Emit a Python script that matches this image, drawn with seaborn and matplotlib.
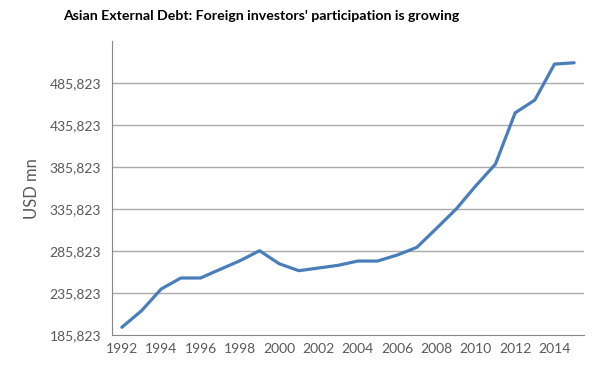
import pandas as pd
import matplotlib.pyplot as plt
import seaborn as sns
import numpy as np

years = list(range(1992, 2016))
debt = [195000, 214700, 240600, 253700, 253700, 264000, 274200, 286200,
        270700, 262400, 265600, 268800, 273900, 273900, 281000, 290200,
        312800, 335800, 363500, 389400, 450400, 465600, 508400, 510000]

y_ticks = [185823, 235823, 285823, 335823, 385823, 435823, 485823]
x_labels = list(range(1992, 2016, 2))

df = pd.DataFrame({'Year': years, 'Debt': debt})

sns.set_style('white')
plt.rcParams['font.family'] = ['Lato', 'DejaVu Sans']

fig = plt.figure(figsize=(6, 3.84), dpi=100)
ax = fig.add_axes([0.1867, 0.1276, 0.7866, 0.7654])

sns.lineplot(data=df, x='Year', y='Debt', ax=ax, color='#4a7ebb', linewidth=2.3)

ax.set_xlim(1991.5, 2015.5)
ax.set_ylim(185823, 535823)

ax.set_yticks(y_ticks)
ax.set_yticklabels([f'{v:,}' for v in y_ticks])
for v in y_ticks[1:]:
    ax.axhline(v, color='#aaaaaa', linewidth=1.0, zorder=0)

# tick marks between categories, labels on the even years
ax.set_xticks(np.arange(1991.5, 2016, 2))
ax.set_xticklabels([])
ax.set_xticks(x_labels, minor=True)
ax.set_xticklabels([str(y) for y in x_labels], minor=True)
ax.tick_params(axis='x', which='major', length=4, width=0.8, color='#868686', direction='out')
ax.tick_params(axis='x', which='minor', length=0, labelsize=10, labelcolor='#595959', pad=6)
ax.tick_params(axis='y', length=4, width=0.8, color='#868686', direction='out',
               labelsize=10, labelcolor='#595959', pad=4)

for side in ['top', 'right']:
    ax.spines[side].set_visible(False)
for side in ['left', 'bottom']:
    ax.spines[side].set_color('#868686')
    ax.spines[side].set_linewidth(0.8)

ax.set_xlabel('')
ax.set_ylabel('')
fig.text(0.053, 0.51, 'USD mn', rotation=90, ha='center', va='center',
         fontsize=12, color='#595959')
fig.text(0.435, 0.958, "Asian External Debt: Foreign investors' participation is growing",
         ha='center', va='center', fontsize=10.2, fontweight='bold', color='black')

fig.savefig('out.png', dpi=100)
